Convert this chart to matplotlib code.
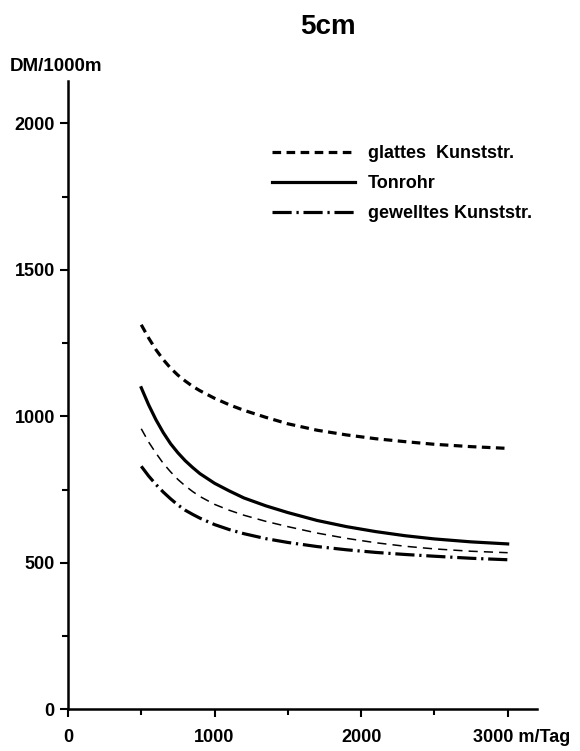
import matplotlib
matplotlib.use("Agg")
import matplotlib.pyplot as plt
import matplotlib.transforms as mtransforms

plt.rcParams["font.family"] = ["Liberation Sans", "DejaVu Sans"]
plt.rcParams["font.weight"] = "bold"

# Fördermenge m/Tag
x_vals = [500, 550, 600, 650, 700, 750, 800, 850, 900, 1000, 1100, 1200, 1350, 1500,
          1700, 1900, 2100, 2300, 2500, 2750, 3000]

# DM/1000m
glattes = [1313, 1268, 1228, 1194, 1165, 1141, 1121, 1103, 1088, 1062, 1040, 1021, 997, 975,
           953, 937, 924, 914, 905, 897, 891]
tonrohr = [1098, 1040, 989, 945, 907, 876, 849, 826, 805, 772, 746, 722, 695, 672,
           645, 624, 607, 593, 582, 572, 565]
duenn = [958, 913, 875, 840, 811, 785, 763, 744, 727, 700, 680, 663, 642, 624,
         602, 584, 569, 557, 548, 540, 535]
gewellt = [830, 797, 768, 742, 719, 698, 680, 666, 653, 631, 614, 600, 583, 570,
           556, 545, 536, 529, 523, 516, 511]

legend_labels = ["glattes  Kunststr.", "Tonrohr", "gewelltes Kunststr."]
x_ticks = [0, 1000, 2000, 3000]
x_ticklabels = ["0", "1000", "2000", "3000 m/Tag"]
y_ticks = [0, 500, 1000, 1500, 2000]

fig = plt.figure(figsize=(5.8, 7.51), dpi=100)
ax = fig.add_axes([0.1172, 0.0553, 0.8086, 0.8369])

ax.plot(x_vals, glattes, color="black", lw=2.3, dashes=(2.7, 1.7), label=legend_labels[0])
ax.plot(x_vals, tonrohr, color="black", lw=2.3, label=legend_labels[1])
ax.plot(x_vals, duenn, color="black", lw=1.1, dashes=(6, 4))
ax.plot(x_vals, gewellt, color="black", lw=2.3, dashes=(6, 1.5, 0.7, 1.5), label=legend_labels[2])

ax.set_xlim(0, 3200)
ax.set_ylim(0, 2145)

for s in ["top", "right"]:
    ax.spines[s].set_visible(False)
for s in ["left", "bottom"]:
    ax.spines[s].set_linewidth(1.8)

ax.set_xticks(x_ticks)
ax.set_xticks([500, 1500, 2500], minor=True)
ax.set_yticks(y_ticks)
ax.set_yticks([250, 750, 1250, 1750], minor=True)
ax.set_xticklabels(x_ticklabels)
ax.tick_params(which="major", length=6, width=1.5, labelsize=13)
ax.tick_params(which="minor", length=4.3, width=1.5)
ax.tick_params(axis="x", which="major", pad=8)
ax.tick_params(axis="y", which="major", pad=3.5)

last = ax.get_xticklabels()[-1]
last.set_ha("left")
last.set_transform(last.get_transform() + mtransforms.ScaledTranslation(-0.35, 0, fig.dpi_scale_trans))

fig.text(0.566, 0.964, "5cm", fontsize=20, ha="center", va="center")
fig.text(0.017, 0.911, "DM/1000m", fontsize=13.5, ha="left", va="center")

leg = ax.legend(loc="upper left", bbox_to_anchor=(0.435, 0.898), frameon=False,
                fontsize=13, handlelength=4.6, handletextpad=0.7, labelspacing=0.72,
                borderaxespad=0, borderpad=0)

fig.savefig("out.png", dpi=100, facecolor="white")
